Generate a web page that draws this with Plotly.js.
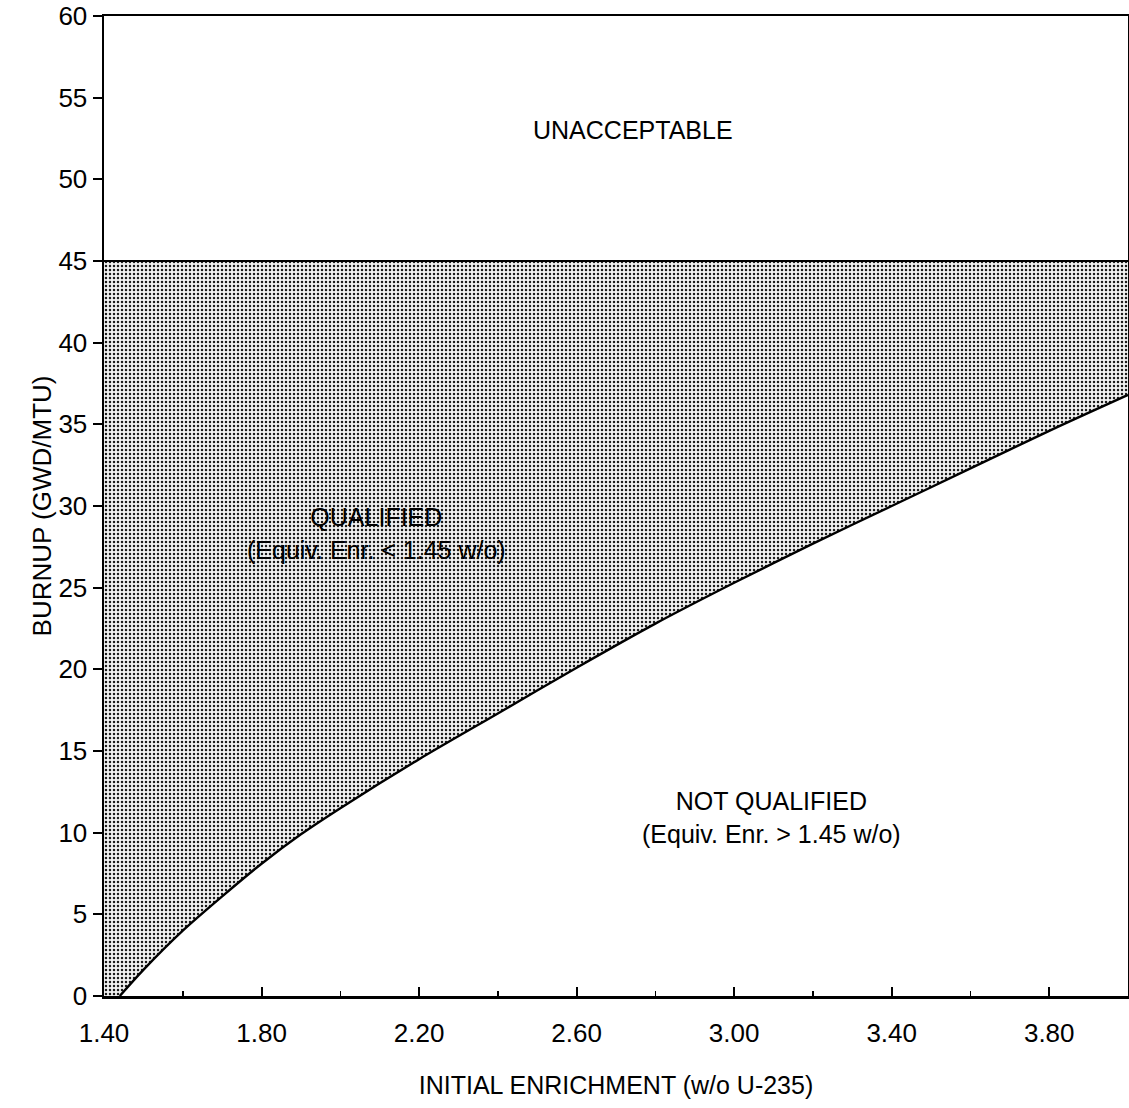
<!DOCTYPE html>
<html>
<head>
<meta charset="utf-8">
<script src="https://cdn.plot.ly/plotly-3.0.1.min.js"></script>
<style>
  html, body { margin: 0; padding: 0; background: #fff; }
  #chart { width: 1129px; height: 1108px; }
</style>
</head>
<body>
<div id="chart"></div>
<script>
// Curve separating QUALIFIED / NOT QUALIFIED
const enrichment = [1.44, 1.50, 1.60, 1.70, 1.80, 1.90, 2.00, 2.20, 2.40, 2.60, 2.80, 3.00, 3.20, 3.40, 3.60, 3.80, 4.00];
const burnup     = [0.0,  1.6,  4.0,  6.1,  8.1,  9.9,  11.5, 14.5, 17.3, 20.1, 22.8, 25.3, 27.7, 30.0, 32.3, 34.6, 36.8];

// Burnup limit (UNACCEPTABLE above)
const limitBurnup = 45;
const xRange = [1.40, 4.00];
const yRange = [0, 60];

// Tick labels
const xTickVals = [1.40, 1.80, 2.20, 2.60, 3.00, 3.40, 3.80];
const xTickText = ["1.40", "1.80", "2.20", "2.60", "3.00", "3.40", "3.80"];
const yTickVals = [0, 5, 10, 15, 20, 25, 30, 35, 40, 45, 50, 55, 60];

// Region labels
const regionLabels = [
  {x: 2.743, y: 53.0, text: "UNACCEPTABLE"},
  {x: 2.093, y: 28.3, text: "QUALIFIED<br>(Equiv. Enr. &lt; 1.45 w/o)"},
  {x: 3.096, y: 10.9, text: "NOT QUALIFIED<br>(Equiv. Enr. &gt; 1.45 w/o)"}
];

const FONT = "Liberation Sans, Arial, Helvetica, sans-serif";

// Shaded QUALIFIED polygon: along the limit line, then back along the curve
const revX = enrichment.slice().reverse();
const revY = burnup.slice().reverse();
const polyX = [xRange[0], xRange[1]].concat(revX).concat([xRange[0]]);
const polyY = [limitBurnup, limitBurnup].concat(revY).concat([yRange[0]]);

const traces = [
  {
    x: polyX, y: polyY, type: "scatter", mode: "lines",
    fill: "toself",
    fillcolor: "#d0d0d0",
    fillpattern: {shape: ".", size: 4, solidity: 0.3, fgcolor: "#1a1a1a", bgcolor: "#f2f2f2"},
    line: {width: 0, color: "rgba(0,0,0,0)"},
    hoverinfo: "skip", showlegend: false
  },
  {
    x: enrichment, y: burnup, type: "scatter", mode: "lines",
    line: {color: "#000", width: 2.4, shape: "spline", smoothing: 0.8},
    showlegend: false, cliponaxis: false
  },
  {
    x: xRange, y: [limitBurnup, limitBurnup], type: "scatter", mode: "lines",
    line: {color: "#000", width: 2},
    showlegend: false, cliponaxis: false
  }
];

const layout = {
  width: 1129, height: 1108,
  margin: {l: 104, r: 1, t: 16, b: 112},
  paper_bgcolor: "#fff", plot_bgcolor: "#fff",
  font: {family: FONT, size: 26, color: "#000"},
  showlegend: false,
  xaxis: {
    range: xRange, showgrid: false, zeroline: false,
    showline: true, linecolor: "#000", linewidth: 2.5, mirror: true,
    tickmode: "array", tickvals: xTickVals, ticktext: xTickText,
    ticks: "inside", ticklen: 9, tickwidth: 2, tickcolor: "#000",
    ticklabelstandoff: 12,
    minor: {dtick: 0.2, tick0: 1.4, ticks: "inside", ticklen: 5, tickwidth: 1.5, tickcolor: "#000", showgrid: false},
    tickfont: {family: FONT, size: 26, color: "#000"},
    title: {text: "INITIAL ENRICHMENT (w/o U-235)", font: {family: FONT, size: 25, color: "#000"}, standoff: 30}
  },
  yaxis: {
    range: yRange, showgrid: false, zeroline: false,
    showline: true, linecolor: "#000", linewidth: 2.5, mirror: true,
    tickmode: "array", tickvals: yTickVals,
    ticks: "outside", ticklen: 9, tickwidth: 2, tickcolor: "#000",
    tickfont: {family: FONT, size: 26, color: "#000"},
    title: {text: "BURNUP (GWD/MTU)", font: {family: FONT, size: 26, color: "#000"}, standoff: 0}
  },
  annotations: regionLabels.map(l => ({
    x: l.x, y: l.y, xref: "x", yref: "y", text: l.text, showarrow: false,
    font: {family: FONT, size: 25, color: "#000"}, align: "center"
  }))
};

Plotly.newPlot("chart", traces, layout, {staticPlot: true, displayModeBar: false});
</script>
</body>
</html>
